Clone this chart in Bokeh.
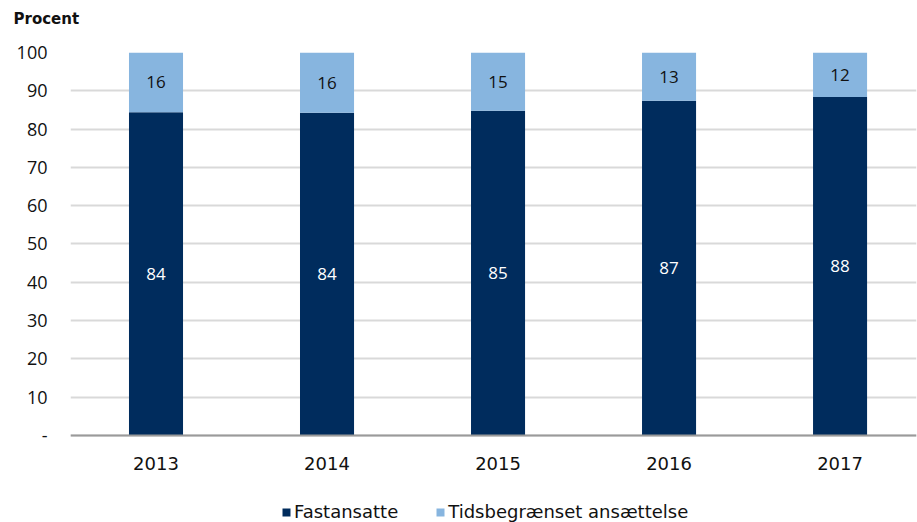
from bokeh.plotting import figure
from bokeh.models import ColumnDataSource, Range1d, FixedTicker, Legend, LegendItem, Title, Span
from bokeh.core.properties import value
from bokeh.embed import file_html
from bokeh.resources import INLINE

years = ["2013", "2014", "2015", "2016", "2017"]
fastansatte = [84.4, 84.3, 84.8, 87.4, 88.4]
tidsbegraenset = [round(100 - v, 1) for v in fastansatte]
y_ticks = [0, 10, 20, 30, 40, 50, 60, 70, 80, 90, 100]

DARK = "#002c5d"
LIGHT = "#87b5df"
FONT = "Open Sans"
FONT2 = "DejaVu Sans"

xs = list(range(len(years)))
src = ColumnDataSource(dict(
    x=xs,
    year=years,
    fast=fastansatte,
    tids=tidsbegraenset,
    top_all=[f + t for f, t in zip(fastansatte, tidsbegraenset)],
    fast_mid=[f / 2 for f in fastansatte],
    tids_mid=[f + t / 2 for f, t in zip(fastansatte, tidsbegraenset)],
    fast_lbl=[f"{round(v):d}" for v in fastansatte],
    tids_lbl=[f"{round(v):d}" for v in tidsbegraenset],
))

p = figure(width=917, height=522, output_backend="svg", toolbar_location=None,
           x_range=Range1d(-0.5, 4.447), y_range=Range1d(-22.72, 100),
           min_border_left=70, min_border_right=1, min_border_top=52,
           min_border_bottom=0)
p.outline_line_color = None

r1 = p.vbar(x="x", bottom=0, top="fast", width=0.316, source=src,
            fill_color=DARK, line_color=None)
r2 = p.vbar(x="x", bottom="fast", top="top_all", width=0.316, source=src,
            fill_color=LIGHT, line_color=None)

p.text(x="x", y="fast_mid", text="fast_lbl", source=src, text_color="white",
       text_align="center", text_baseline="middle", text_font=value(FONT),
       text_font_size="17px")
p.text(x="x", y="tids_mid", text="tids_lbl", source=src, text_color="#111111",
       text_align="center", text_baseline="middle", text_font=value(FONT),
       text_font_size="17px")

# baseline (category axis line) and category labels
p.add_layout(Span(location=0, dimension="width", line_color="#9a9a9a", line_width=2))
p.text(x="x", y=-7.3, text="year", source=src, text_color="#111111",
       text_align="center", text_baseline="middle", text_font=value(FONT2),
       text_font_size="18px")

p.xaxis.visible = False

p.yaxis.ticker = FixedTicker(ticks=y_ticks)
p.yaxis.major_label_overrides = {0: "-"}
p.yaxis.major_tick_line_color = None
p.yaxis.minor_tick_line_color = None
p.yaxis.axis_line_color = None
p.yaxis.major_label_text_font = FONT
p.yaxis.major_label_text_font_size = "18px"
p.yaxis.major_label_text_color = "#111111"
p.yaxis.major_label_standoff = 17

p.xgrid.grid_line_color = None
p.ygrid.grid_line_color = "#d9d9d9"
p.ygrid.grid_line_width = 2

# spacer between frame and the unit label
spacer = Title(text=" ", text_font_size="1px", standoff=22, text_color="white")
p.add_layout(spacer, "above")
title = Title(text="Procent", align="left", offset=-57, text_font=FONT2,
              text_font_size="15px", text_font_style="bold", text_color="#111111",
              standoff=0)
p.add_layout(title, "above")

legend = Legend(items=[LegendItem(label="Fastansatte", renderers=[r1]),
                       LegendItem(label="Tidsbegrænset ansættelse", renderers=[r2])],
                orientation="horizontal", location=(211, 0),
                label_text_font=FONT2, label_text_font_size="18px",
                label_text_color="#111111", glyph_width=10, glyph_height=10,
                spacing=37, label_standoff=3, padding=0, margin=0,
                border_line_color=None, background_fill_alpha=0)
p.add_layout(legend, "center")

open("out.html", "w").write(file_html(p, INLINE))
